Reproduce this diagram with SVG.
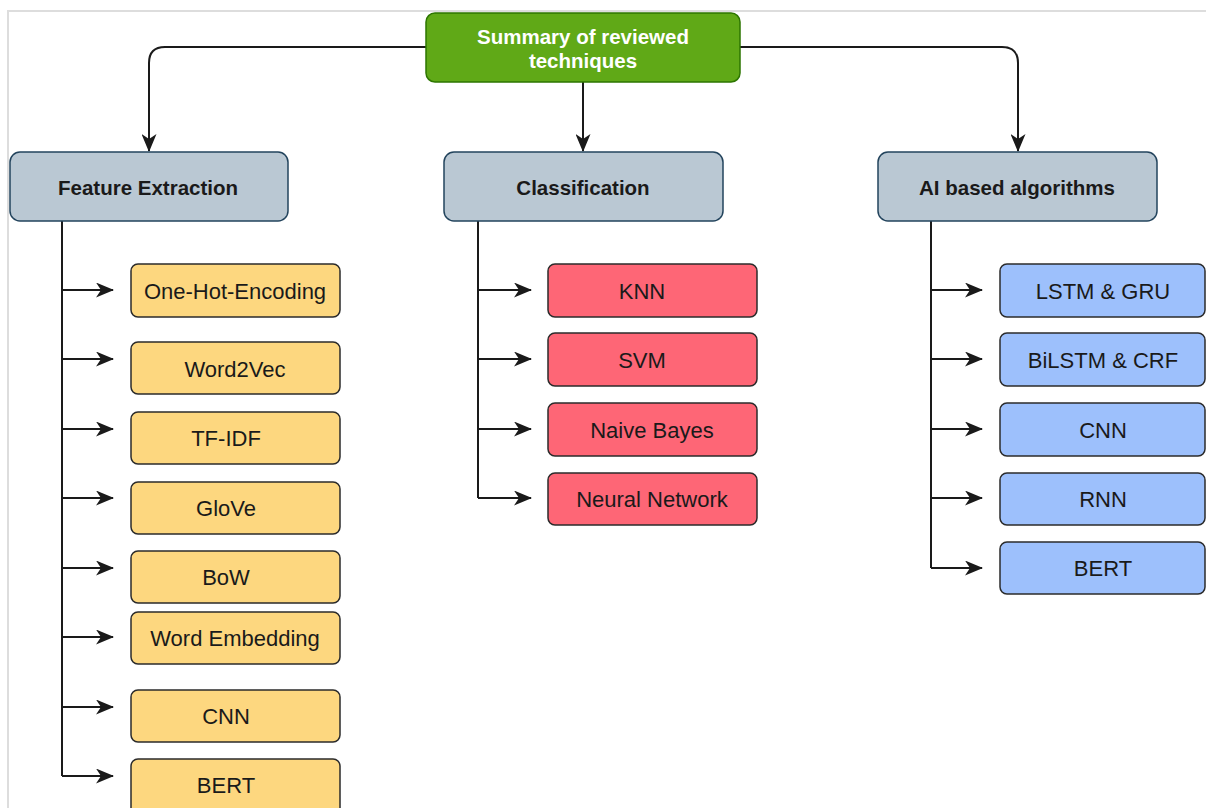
<svg xmlns="http://www.w3.org/2000/svg" width="1206" height="808" viewBox="0 0 1206 808">
<defs>
<style>
.frame{fill:none;stroke:#dddddd;stroke-width:2}
.c{fill:none;stroke:#1a1a1a;stroke-width:2}
.hdr{fill:#bac8d3;stroke:#23445d;stroke-width:1.5}
.yel{fill:#fdd77f;stroke:#2b2b2b;stroke-width:1.5}
.red{fill:#fe6676;stroke:#2b2b2b;stroke-width:1.5}
.blu{fill:#9dc0fc;stroke:#2b2b2b;stroke-width:1.5}
.top{fill:#60a917;stroke:#2d7600;stroke-width:1.5}
text{font-family:"Liberation Sans",Arial,sans-serif;text-anchor:middle;dominant-baseline:central;fill:#1a1a1a}
.b{font-weight:bold;font-size:20.5px}
.t{font-size:22px}
.w{fill:#ffffff;font-weight:bold;font-size:20.5px}
</style>
<marker id="ah" viewBox="0 0 18 15" refX="17" refY="7.5" markerWidth="18" markerHeight="15" markerUnits="userSpaceOnUse" orient="auto">
<path d="M0,0 L18,7.5 L0,15 L5,7.5 Z" fill="#1a1a1a"/>
</marker>
</defs>
<rect width="1206" height="808" fill="#ffffff"/>
<path class="frame" d="M8,808 V11 H1206"/>
<g id="connectors">
<path class="c" d="M426,47 H165 Q149,47 149,63 V151" marker-end="url(#ah)"/>
<path class="c" d="M740,47 H1002 Q1018,47 1018,63 V151" marker-end="url(#ah)"/>
<path class="c" d="M583,82 V151" marker-end="url(#ah)"/>
<path class="c" d="M62,221 V776"/>
<path class="c" d="M62,290 H113" marker-end="url(#ah)"/>
<path class="c" d="M62,359 H113" marker-end="url(#ah)"/>
<path class="c" d="M62,429 H113" marker-end="url(#ah)"/>
<path class="c" d="M62,498 H113" marker-end="url(#ah)"/>
<path class="c" d="M62,568 H113" marker-end="url(#ah)"/>
<path class="c" d="M62,637 H113" marker-end="url(#ah)"/>
<path class="c" d="M62,707 H113" marker-end="url(#ah)"/>
<path class="c" d="M62,776 H113" marker-end="url(#ah)"/>
<path class="c" d="M478,221 V498"/>
<path class="c" d="M478,290 H531" marker-end="url(#ah)"/>
<path class="c" d="M478,359 H531" marker-end="url(#ah)"/>
<path class="c" d="M478,429 H531" marker-end="url(#ah)"/>
<path class="c" d="M478,498 H531" marker-end="url(#ah)"/>
<path class="c" d="M931,221 V568"/>
<path class="c" d="M931,290 H982" marker-end="url(#ah)"/>
<path class="c" d="M931,359 H982" marker-end="url(#ah)"/>
<path class="c" d="M931,429 H982" marker-end="url(#ah)"/>
<path class="c" d="M931,498 H982" marker-end="url(#ah)"/>
<path class="c" d="M931,568 H982" marker-end="url(#ah)"/>
</g>
<g id="root"><rect class="top" x="426" y="13" width="314" height="69" rx="9"/><text class="w" x="583" y="36">Summary of reviewed</text><text class="w" x="583" y="60">techniques</text></g>
<g id="feature-extraction"><rect class="hdr" x="10" y="152" width="278" height="69" rx="10"/><text class="b" x="148" y="187">Feature Extraction</text></g>
<g id="classification"><rect class="hdr" x="444" y="152" width="279" height="69" rx="10"/><text class="b" x="583" y="187">Classification</text></g>
<g id="ai-based"><rect class="hdr" x="878" y="152" width="279" height="69" rx="10"/><text class="b" x="1017" y="187">AI based algorithms</text></g>
<g id="fe-ohe"><rect class="yel" x="131" y="264" width="209" height="53" rx="7"/><text class="t" x="235" y="291">One-Hot-Encoding</text></g>
<g id="fe-w2v"><rect class="yel" x="131" y="342" width="209" height="52" rx="7"/><text class="t" x="235" y="369">Word2Vec</text></g>
<g id="fe-tfidf"><rect class="yel" x="131" y="412" width="209" height="52" rx="7"/><text class="t" x="226" y="438">TF-IDF</text></g>
<g id="fe-glove"><rect class="yel" x="131" y="482" width="209" height="52" rx="7"/><text class="t" x="226" y="508">GloVe</text></g>
<g id="fe-bow"><rect class="yel" x="131" y="551" width="209" height="52" rx="7"/><text class="t" x="226" y="577">BoW</text></g>
<g id="fe-we"><rect class="yel" x="131" y="612" width="209" height="52" rx="7"/><text class="t" x="235" y="638">Word Embedding</text></g>
<g id="fe-cnn"><rect class="yel" x="131" y="690" width="209" height="52" rx="7"/><text class="t" x="226" y="716">CNN</text></g>
<g id="fe-bert"><rect class="yel" x="131" y="759" width="209" height="60" rx="7"/><text class="t" x="226" y="785">BERT</text></g>
<g id="cl-knn"><rect class="red" x="548" y="264" width="209" height="53" rx="7"/><text class="t" x="642" y="291">KNN</text></g>
<g id="cl-svm"><rect class="red" x="548" y="333" width="209" height="53" rx="7"/><text class="t" x="642" y="360">SVM</text></g>
<g id="cl-nb"><rect class="red" x="548" y="403" width="209" height="53" rx="7"/><text class="t" x="652" y="430">Naive Bayes</text></g>
<g id="cl-nn"><rect class="red" x="548" y="473" width="209" height="52" rx="7"/><text class="t" x="652" y="499">Neural Network</text></g>
<g id="ai-lstm"><rect class="blu" x="1000" y="264" width="205" height="53" rx="7"/><text class="t" x="1103" y="291">LSTM &amp; GRU</text></g>
<g id="ai-bilstm"><rect class="blu" x="1000" y="333" width="205" height="53" rx="7"/><text class="t" x="1103" y="360">BiLSTM &amp; CRF</text></g>
<g id="ai-cnn"><rect class="blu" x="1000" y="403" width="205" height="53" rx="7"/><text class="t" x="1103" y="430">CNN</text></g>
<g id="ai-rnn"><rect class="blu" x="1000" y="473" width="205" height="52" rx="7"/><text class="t" x="1103" y="499">RNN</text></g>
<g id="ai-bert"><rect class="blu" x="1000" y="542" width="205" height="52" rx="7"/><text class="t" x="1103" y="568">BERT</text></g>
</svg>
